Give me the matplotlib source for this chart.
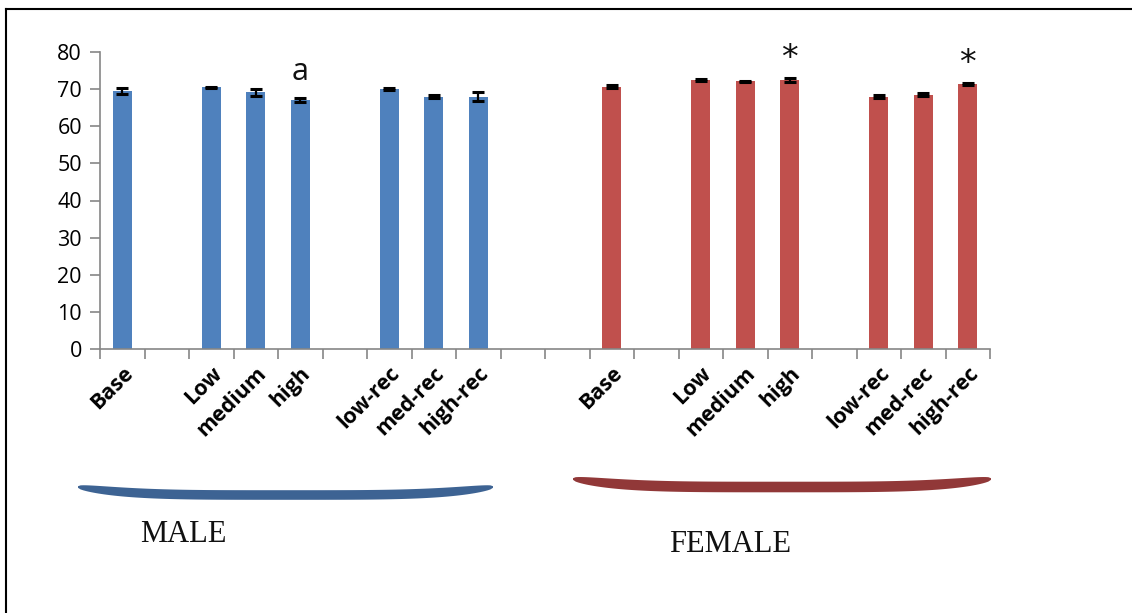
import matplotlib
matplotlib.use("Agg")
import matplotlib.pyplot as plt
from matplotlib.patches import Polygon
import numpy as np

# bar labels, empty slots separate the groups
LABELS = ["Base", "", "Low", "medium", "high", "", "low-rec", "med-rec", "high-rec", "",
          "", "Base", "", "Low", "medium", "high", "", "low-rec", "med-rec", "high-rec"]
MALE = [69.5, 0, 70.5, 69.1, 67.0, 0, 70.0, 68.0, 68.0, 0]
MALE_ERR = [0.7, 0, 0.2, 0.9, 0.5, 0, 0.3, 0.5, 1.2, 0]
FEMALE = [0, 70.6, 0, 72.5, 72.1, 72.5, 0, 68.0, 68.5, 71.4]
FEMALE_ERR = [0, 0.4, 0, 0.2, 0.1, 0.5, 0, 0.3, 0.4, 0.2]
MARKS = {4: "a", 15: "*", 19: "*"}

BLUE = "#4F81BD"
RED = "#C0504D"
W, H = 1132, 613

fig = plt.figure(figsize=(W / 100, H / 100), dpi=100)
ax = fig.add_axes([100 / W, 1 - 349 / H, 890 / W, 297 / H])

vals = MALE + FEMALE
errs = MALE_ERR + FEMALE_ERR
cols = [BLUE] * len(MALE) + [RED] * len(FEMALE)
x = np.arange(len(vals))
shown = [i for i, v in enumerate(vals) if v > 0]
ax.bar(x[shown], [vals[i] for i in shown], width=0.42, color=[cols[i] for i in shown],
       edgecolor="none", zorder=2)
ax.errorbar(x[shown], [vals[i] for i in shown], yerr=[errs[i] for i in shown], fmt="none",
            ecolor="black", elinewidth=1.6, capsize=4.5, capthick=2.2, zorder=3)

for i, s in MARKS.items():
    if s == "a":
        ax.text(i, vals[i] + errs[i] + 3.0, s, ha="center", va="bottom",
                fontsize=22, family="Open Sans", color="#111111")
    else:
        ax.text(i, vals[i] + errs[i] + 0.8, s, ha="center", va="bottom",
                fontsize=24, family="DejaVu Sans", color="#111111")

ax.set_xlim(-0.5, len(vals) - 0.5)
ax.set_ylim(0, 80)
ax.set_yticks(range(0, 81, 10))
ax.tick_params(axis="y", direction="out", length=7, width=1.2, color="#868686",
               labelsize=15.5, pad=6)
for t in ax.get_yticklabels():
    t.set_family("Open Sans")
ax.set_xticks(x)
ax.set_xticklabels(LABELS, rotation=45, ha="right", va="top", rotation_mode="anchor",
                   fontsize=15.5, fontweight="bold", family="Open Sans")
ax.tick_params(axis="x", which="major", length=0, pad=10)
ax.set_xticks(np.arange(-0.5, len(vals)), minor=True)
ax.tick_params(axis="x", which="minor", direction="out", length=7, width=1.2, color="#868686")
for side in ("top", "right"):
    ax.spines[side].set_visible(False)
for side in ("left", "bottom"):
    ax.spines[side].set_color("#868686")
    ax.spines[side].set_linewidth(1.2)


def brace(x0, x1, yend, sag, thick, color):
    # curved brush stroke under a group, pixel coords from the top-left
    t = np.linspace(-1, 1, 160)
    xs = x0 + (t + 1) / 2 * (x1 - x0)
    mid = yend + sag * (1 - t ** 4)
    half = thick / 2 * np.sqrt(np.clip(1 - t ** 8, 0, 1)) + 0.8
    pts = np.concatenate([np.c_[xs, mid - half], np.c_[xs[::-1], (mid + half)[::-1]]])
    pts = np.c_[pts[:, 0] / W, 1 - pts[:, 1] / H]
    fig.patches.append(Polygon(pts, closed=True, transform=fig.transFigure,
                               facecolor=color, edgecolor="none"))


brace(78, 493, 487, 8, 8, "#3D6393")
brace(573, 991, 479, 8, 9, "#913838")

fig.text(183 / W, 1 - 535 / H, "MALE", ha="center", va="center", fontsize=22,
         family="Liberation Serif", color="#111111")
fig.text(730 / W, 1 - 545 / H, "FEMALE", ha="center", va="center", fontsize=22,
         family="Liberation Serif", color="#111111")

# outer frame: top and left edges
fig.add_artist(plt.Line2D([6 / W, 1], [1 - 9 / H, 1 - 9 / H], transform=fig.transFigure,
                          color="black", lw=1.5))
fig.add_artist(plt.Line2D([6 / W, 6 / W], [0, 1 - 9 / H], transform=fig.transFigure,
                          color="black", lw=1.5))

fig.savefig("out.png", dpi=100)
